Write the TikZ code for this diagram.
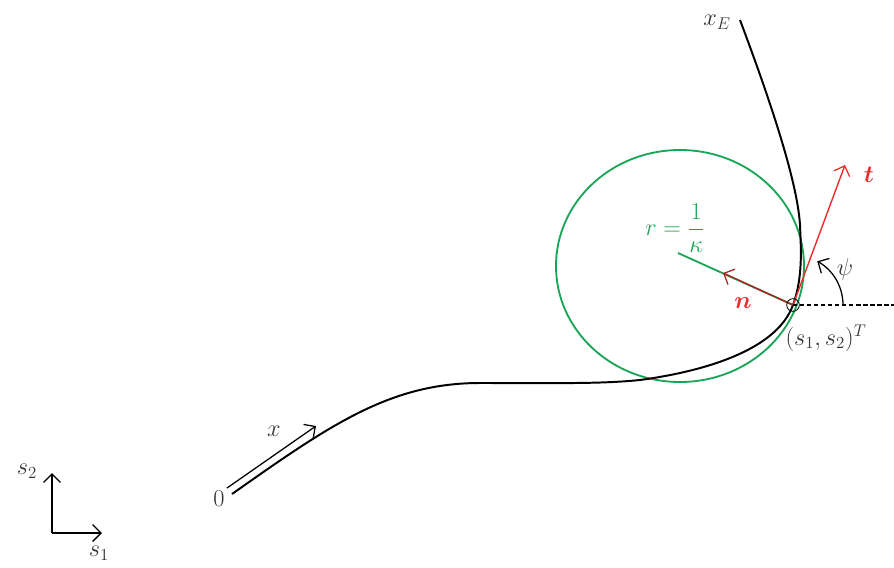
\documentclass[tikz,border=0pt]{standalone}
\usepackage{amsmath,amssymb,bm}
\usepackage{tikz}
\usetikzlibrary{arrows.meta,positioning,calc}
\definecolor{kreisgruen}{RGB}{25,165,85}
\definecolor{vekrot}{RGB}{235,45,45}
\definecolor{normrot}{RGB}{175,35,35}

\begin{document}
\begin{tikzpicture}[x=0.025cm, y=-0.025cm,
        every node/.style={font=\fontsize{18}{22}\selectfont, text=black!80, inner sep=1pt},
        kurve/.style={line width=1.4pt, black},
        spitze/.style={-{Straight Barb[length=6pt,width=12pt,line width=0.9pt]}},
        achse/.style={line width=0.9pt, spitze},
        vektor/.style={line width=1pt, spitze},
        gruen/.style={line width=1.3pt, kreisgruen}
      ]
        \useasboundingbox (0,0) rectangle (894,567);

        % Punkte
        \coordinate (p0) at (232,494);
        \coordinate (pE) at (740,20);
        \coordinate (P) at (793,305);
        \coordinate (M) at (678,253);
        \coordinate (tE) at (845,165);
        \coordinate (nE) at (723,273);
        \coordinate (dE) at (894,305);
        \coordinate (xa) at (227,488);
        \coordinate (xb) at (316,426);
        \coordinate (O) at (52,533);
        \coordinate (e1) at (102,533);
        \coordinate (e2) at (52,473);

        % Kruemmungskreis
        \draw[gruen] (680,266) ellipse [x radius=124, y radius=116];
        \draw[gruen] (M) -- (P);

        % Bahnkurve
        \draw[kurve] (p0) .. controls (330,425) and (390,383) .. (480,383)
          .. controls (560,383) and (600,384) .. (640,380)
          .. controls (699,372) and (776,352) .. (P)
          .. controls (803,277) and (801,250) .. (800,225)
          .. controls (797,175) and (761,76) .. (pE);

        % Laufrichtung
        \draw[achse] (xa) -- (xb);

        % Tangente, Normale
        \draw[vektor, vekrot] (P) -- (tE);
        \draw[vektor, normrot] (P) -- (nE);
        \draw[line width=0.8pt, dashed, dash pattern=on 3pt off 2pt] (P) -- (dE);
        \node[circle, draw, line width=0.6pt, minimum size=9pt, inner sep=0pt] (Pk) at (P) {};

        % Winkel psi
        \draw[line width=0.9pt, spitze] (P) ++(50,0) arc[start angle=0, end angle=-61, radius=50];

        % Achsen
        \draw[achse] (O) -- (e1);
        \draw[achse] (O) -- (e2);

        % Beschriftungen
        \node (lx) at (274,431) {$x$};
        \node (l0) at (219,499) {$0$};
        \node (lxE) at (717,22) {$x_E$};
        \node[text=vekrot] (lt) at (869,175) {$\bm{t}$};
        \node[text=vekrot] (ln) at (743,303) {$\bm{n}$};
        \node (lpsi) at (845,269) {$\psi$};
        \node (lP) at (826,338) {$(s_1,s_2)^T$};
        \node[text=kreisgruen] (lr) at (675,228) {$r=\dfrac{1}{\kappa}$};
        \node (ls2) at (27,471) {$s_2$};
        \node (ls1) at (99,553) {$s_1$};
      \end{tikzpicture}
\end{document}
